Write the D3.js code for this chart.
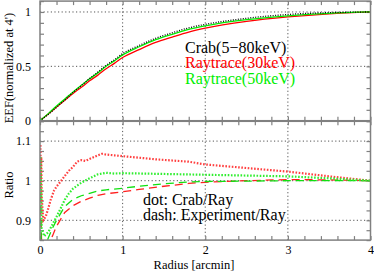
<!DOCTYPE html>
<html>
<head>
<meta charset="utf-8">
<script src="https://cdn.jsdelivr.net/npm/d3@7"></script>
<style>
  html, body { margin: 0; padding: 0; background: #fff; }
</style>
</head>
<body>
<svg id="chart" width="374" height="272"></svg>
<script>
// EEF curves (top panel)
const eefRadius = [0, 0.1, 0.2, 0.3, 0.4, 0.5, 0.6, 0.7, 0.8, 0.9, 1.0, 1.2, 1.4, 1.6, 1.8, 2.0, 2.5, 3.0, 3.5, 4.0];
const eefCrab   = [0, 0.058, 0.123, 0.19, 0.26, 0.323, 0.387, 0.447, 0.51, 0.56, 0.617, 0.692, 0.758, 0.808, 0.854, 0.886, 0.942, 0.977, 0.994, 1.0];
const eefRay30  = [0, 0.062, 0.125, 0.188, 0.251, 0.307, 0.367, 0.419, 0.478, 0.527, 0.581, 0.654, 0.72, 0.769, 0.815, 0.851, 0.913, 0.954, 0.983, 1.0];
const eefRay50  = [0, 0.065, 0.135, 0.2, 0.265, 0.325, 0.385, 0.44, 0.5, 0.55, 0.605, 0.68, 0.745, 0.795, 0.84, 0.873, 0.93, 0.965, 0.988, 1.0];

// ratio curves (bottom panel), [radius, ratio]
const crabRay30 = [[0.005,1.09],[0.01,1.0],[0.015,1.06],[0.02,0.96],[0.04,0.9],[0.07,0.91],[0.1,0.93],[0.13,0.952],[0.17,0.975],[0.2,0.985],[0.25,0.998],[0.3,1.012],[0.35,1.025],[0.4,1.035],[0.45,1.048],[0.5,1.052],[0.55,1.05],[0.6,1.055],[0.7,1.064],[0.75,1.068],[0.8,1.066],[0.9,1.064],[1.0,1.062],[1.2,1.058],[1.4,1.054],[1.6,1.051],[1.8,1.048],[2.0,1.041],[2.5,1.032],[3.0,1.023],[3.5,1.011],[4.0,1.0]];
const crabRay50 = [[0.005,1.06],[0.01,1.015],[0.015,0.96],[0.02,0.88],[0.05,0.86],[0.1,0.87],[0.14,0.885],[0.2,0.909],[0.25,0.93],[0.3,0.952],[0.35,0.968],[0.4,0.98],[0.5,0.995],[0.6,1.006],[0.7,1.016],[0.8,1.02],[0.9,1.018],[1.0,1.019],[1.5,1.017],[2.0,1.015],[2.5,1.013],[3.0,1.011],[3.5,1.006],[4.0,1.0]];
const expRay30  = [[0.005,1.0],[0.01,0.92],[0.02,0.84],[0.1,0.84],[0.15,0.86],[0.2,0.885],[0.3,0.92],[0.4,0.937],[0.5,0.948],[0.6,0.956],[0.7,0.963],[0.8,0.967],[1.0,0.972],[1.2,0.978],[1.5,0.986],[1.8,0.993],[2.0,0.996],[2.5,1.0],[3.0,1.003],[3.5,1.002],[4.0,1.0]];
const expRay50  = [[0.005,0.97],[0.01,0.9],[0.015,0.85],[0.05,0.83],[0.1,0.855],[0.15,0.88],[0.2,0.9],[0.3,0.935],[0.4,0.953],[0.5,0.962],[0.6,0.968],[0.7,0.974],[0.8,0.977],[1.0,0.981],[1.2,0.986],[1.5,0.992],[1.8,0.997],[2.0,0.998],[3.0,1.0],[4.0,1.0]];

const xTicks = [0, 1, 2, 3, 4];
const eefTicks = [0, 0.5, 1];
const ratioTicks = [0.9, 1, 1.1];
const topLegend = [
  { label: "Crab(5\u221280keV)", color: "#000" },
  { label: "Raytrace(30keV)", color: "#ff0000" },
  { label: "Raytrace(50keV)", color: "#00ee00" },
];
const bottomLegend = ["dot: Crab/Ray", "dash: Experiment/Ray"];

const serif = "Liberation Serif";
const svg = d3.select("#chart");
const x = d3.scaleLinear().domain([0, 4]).range([40, 370.5]);
const yTop = d3.scaleLinear().domain([0, 1.1]).range([120.7, 1.1]);
const yBot = d3.scaleLinear().domain([0.85, 1.15]).range([240.1, 121.3]);
const frameColor = "#808080";
const gridColor = "#555";

const defs = svg.append("defs");
defs.append("clipPath").attr("id", "clipTop").append("rect")
  .attr("x", x(0)).attr("y", yTop(1.1)).attr("width", x(4) - x(0)).attr("height", yTop(0) - yTop(1.1));
defs.append("clipPath").attr("id", "clipBot").append("rect")
  .attr("x", x(0)).attr("y", yBot(1.15)).attr("width", x(4) - x(0)).attr("height", yBot(0.85) - yBot(1.15));

function panel(y, yMinor, yMajor, gridY, clipId) {
  const [y0, y1] = y.range();
  // grid
  const grid = svg.append("g");
  [1, 2, 3].forEach((v) => grid.append("line").attr("x1", x(v)).attr("x2", x(v)).attr("y1", y0).attr("y2", y1)
    .attr("stroke", gridColor).attr("stroke-dasharray", "1.2,2.4"));
  gridY.forEach((v) => grid.append("line").attr("x1", x(0)).attr("x2", x(4)).attr("y1", y(v)).attr("y2", y(v))
    .attr("stroke", gridColor).attr("stroke-dasharray", "1.2,2.4"));

  const xMinor = d3.range(0, 4.001, 0.2);
  const style = (axis) => axis.call((a) => a.select(".domain").remove())
    .call((a) => a.selectAll("line").attr("stroke", frameColor).attr("stroke-width", 1.2));
  svg.append("g").attr("transform", `translate(0,${y0})`)
    .call(d3.axisBottom(x).tickValues(xMinor).tickSize(-4).tickFormat("")).call(style);
  svg.append("g").attr("transform", `translate(0,${y1})`)
    .call(d3.axisTop(x).tickValues(xMinor).tickSize(-4).tickFormat("")).call(style);
  svg.append("g").attr("transform", `translate(${x(0)},0)`)
    .call(d3.axisLeft(y).tickValues(yMinor).tickSize(-4).tickFormat("")).call(style);
  svg.append("g").attr("transform", `translate(${x(4)},0)`)
    .call(d3.axisRight(y).tickValues(yMinor).tickSize(-4).tickFormat("")).call(style);

  // tick labels
  svg.append("g").attr("transform", `translate(${x(0)},0)`)
    .call(d3.axisLeft(y).tickValues(yMajor).tickSize(0).tickPadding(9).tickFormat((d) => String(d)))
    .attr("font-family", serif).attr("font-size", 12)
    .call((a) => a.select(".domain").remove())
    .call((a) => a.selectAll("text").attr("fill", "#000"));

  return svg.append("g").attr("clip-path", `url(#${clipId})`);
}

const gTop = panel(yTop, d3.range(0, 1.101, 0.1), eefTicks, [0.5, 1], "clipTop");
const gBot = panel(yBot, d3.range(0.85, 1.1501, 0.025), ratioTicks, [0.9, 1, 1.1], "clipBot");

// top curves
const lineTop = d3.line().x((d) => x(d[0])).y((d) => yTop(d[1])).curve(d3.curveMonotoneX);
const zipR = (vals) => eefRadius.map((r, i) => [r, vals[i]]);
gTop.append("path").attr("d", lineTop(zipR(eefRay30))).attr("fill", "none").attr("stroke", "#ff0000").attr("stroke-width", 1.3);
gTop.append("path").attr("d", lineTop(zipR(eefRay50))).attr("fill", "none").attr("stroke", "#00ee00").attr("stroke-width", 1.3);
gTop.append("path").attr("d", lineTop(zipR(eefCrab))).attr("fill", "none").attr("stroke", "#000").attr("stroke-width", 1.3).attr("stroke-dasharray", "1,1.5");

// bottom curves
const lineBot = d3.line().x((d) => x(d[0])).y((d) => yBot(d[1]));
gBot.append("path").attr("d", lineBot(expRay30)).attr("fill", "none").attr("stroke", "#ff2020").attr("stroke-width", 1.3).attr("stroke-dasharray", "8,5");
gBot.append("path").attr("d", lineBot(expRay50)).attr("fill", "none").attr("stroke", "#10e010").attr("stroke-width", 1.3).attr("stroke-dasharray", "8,5");
gBot.append("path").attr("d", lineBot(crabRay30)).attr("fill", "none").attr("stroke", "#ff4040").attr("stroke-width", 2.2).attr("stroke-dasharray", "1.6,1.6");
gBot.append("path").attr("d", lineBot(crabRay50)).attr("fill", "none").attr("stroke", "#30ee30").attr("stroke-width", 2.2).attr("stroke-dasharray", "1.6,1.6");

// frames
[yTop, yBot].forEach((y) => {
  const [y0, y1] = y.range();
  svg.append("rect").attr("x", x(0)).attr("y", y1).attr("width", x(4) - x(0)).attr("height", y0 - y1)
    .attr("fill", "none").attr("stroke", frameColor).attr("stroke-width", 1.5);
});

// x tick labels
svg.append("g").attr("transform", `translate(0,${yBot(0.85)})`)
  .call(d3.axisBottom(x).tickValues(xTicks).tickSize(0).tickPadding(5).tickFormat((d) => String(d)))
  .attr("font-family", serif).attr("font-size", 12)
  .call((a) => a.select(".domain").remove())
  .call((a) => a.selectAll("text").attr("fill", "#000"));

// axis titles
const txt = (sel, size) => sel.attr("font-family", serif).attr("font-size", size);
txt(svg.append("text"), 12.5).attr("x", 194).attr("y", 269).attr("text-anchor", "middle").text("Radius [arcmin]");
txt(svg.append("text"), 12.5).attr("transform", "translate(13,68) rotate(-90)").attr("text-anchor", "middle").text("EEF(normalized at 4')");
txt(svg.append("text"), 12.5).attr("transform", "translate(13,185) rotate(-90)").attr("text-anchor", "middle").text("Ratio");

// legends
topLegend.forEach((d, i) => {
  txt(svg.append("text"), 16).attr("x", 185).attr("y", 52.5 + i * 15.5).attr("fill", d.color).text(d.label);
});
bottomLegend.forEach((d, i) => {
  txt(svg.append("text"), 16).attr("x", 143).attr("y", 204.5 + i * 15.5).attr("fill", "#000").text(d);
});
</script>
</body>
</html>
